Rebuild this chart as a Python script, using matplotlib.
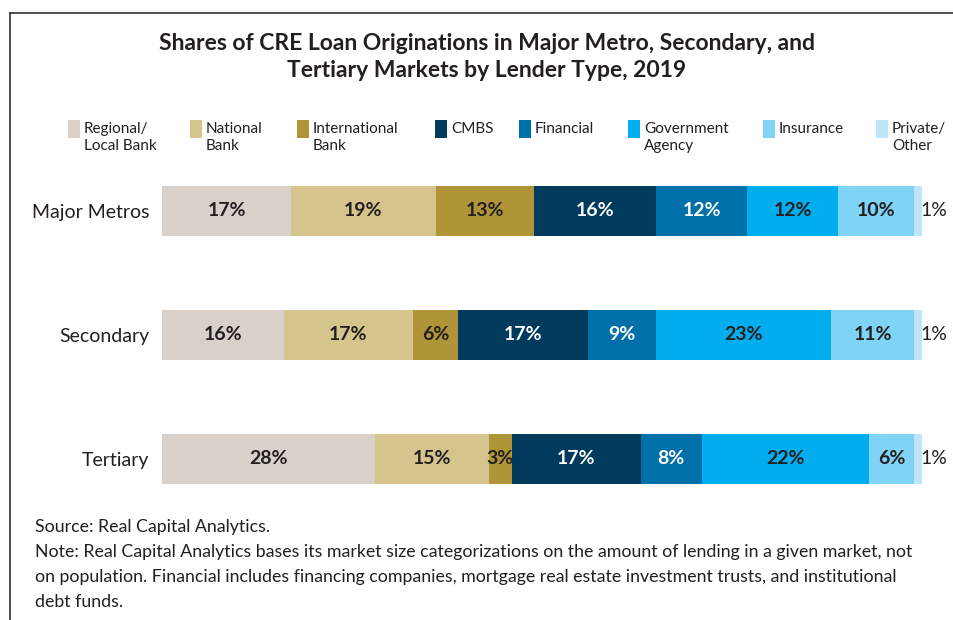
import matplotlib
matplotlib.use("Agg")
import matplotlib.pyplot as plt
from matplotlib.lines import Line2D
from matplotlib.patches import Rectangle
import numpy as np

plt.rcParams['font.family'] = ['Lato', 'DejaVu Sans']

markets = ["Major Metros", "Secondary", "Tertiary"]
lender_types = ["Regional/\nLocal Bank", "National\nBank", "International\nBank", "CMBS",
                "Financial", "Government\nAgency", "Insurance", "Private/\nOther"]
regional_local = [17, 16, 28]
national = [19, 17, 15]
international = [13, 6, 3]
cmbs = [16, 17, 17]
financial = [12, 9, 8]
government = [12, 23, 22]
insurance = [10, 11, 6]
private_other = [1, 1, 1]
series = [regional_local, national, international, cmbs, financial, government, insurance, private_other]

colors = ["#D9D0CA", "#D6C48D", "#B09538", "#003A5D", "#0070AA", "#00AEEF", "#7FD3F5", "#BEE5F8"]
text_colors = ["#231F20", "#231F20", "#231F20", "white", "white", "#231F20", "#231F20", "#231F20"]

W, H = 954, 620
fig = plt.figure(figsize=(W / 100, H / 100), dpi=100)
ax = fig.add_axes([162 / W, 1 - 521 / H, 760 / W, 372 / H])

y = np.arange(len(markets))
left = np.zeros(len(markets))
for i, vals in enumerate(series):
    bars = ax.barh(y, vals, left=left, height=0.4, color=colors[i], edgecolor='none')
    labels = [f"{v}%" for v in vals]
    if i == len(series) - 1:
        ax.bar_label(bars, labels=labels, label_type='edge', padding=-1,
                     fontsize=14, color="#231F20")
    else:
        ax.bar_label(bars, labels=labels, label_type='center',
                     fontsize=14, fontweight='bold', color=text_colors[i])
    left += np.array(vals)

ax.set_xlim(0, 100)
ax.set_ylim(2.5, -0.5)
ax.set_yticks(y)
ax.set_yticklabels(markets, fontsize=14, color="#231F20")
ax.tick_params(axis='y', length=0, pad=9)
ax.set_xticks([])
for s in ax.spines.values():
    s.set_visible(False)

# Title
fig.text(487 / W, 1 - 57 / H, "Shares of CRE Loan Originations in Major Metro, Secondary, and\nTertiary Markets by Lender Type, 2019",
         ha='center', va='center', fontsize=16.5, fontweight='bold', color="#231F20", linespacing=1.3)

# Legend (manual)
leg_x = [68, 190, 297, 435, 519, 628, 763, 876]
for lx, lab, c in zip(leg_x, lender_types, colors):
    fig.add_artist(Rectangle((lx / W, 1 - 138 / H), 12 / W, 18 / H, transform=fig.transFigure,
                             facecolor=c, edgecolor='none'))
    fig.text((lx + 16) / W, 1 - 122 / H, lab, ha='left', va='top', fontsize=11,
             color="#231F20", linespacing=1.3)

# Source / note
notes = ["Source: Real Capital Analytics.",
         "Note: Real Capital Analytics bases its market size categorizations on the amount of lending in a given market, not",
         "on population. Financial includes financing companies, mortgage real estate investment trusts, and institutional",
         "debt funds."]
for k, line in enumerate(notes):
    fig.text(35 / W, 1 - (527 + 25 * k) / H, line, ha='left', va='center', fontsize=12.8, color="#231F20")

# Frame
fig.add_artist(Line2D([10 / W, 10 / W], [0, 1 - 13 / H], transform=fig.transFigure, color="#333333", lw=1.2))
fig.add_artist(Line2D([10 / W, 1], [1 - 13 / H, 1 - 13 / H], transform=fig.transFigure, color="#333333", lw=1.2))

fig.savefig("out.png", dpi=100)
